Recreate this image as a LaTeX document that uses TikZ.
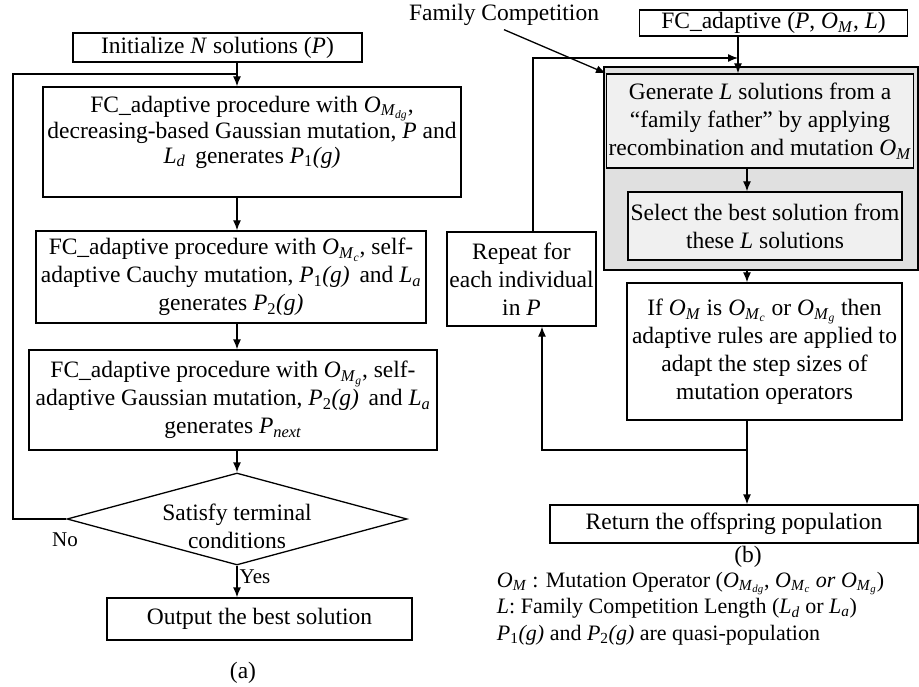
\documentclass[tikz,border=0pt]{standalone}
\usepackage{fontspec}
\setmainfont{Liberation Serif}
\usepackage{tikz}
\usetikzlibrary{shapes.geometric,arrows.meta}
\newcommand{\OmM}{\textit{O}\textsubscript{\textit{M}}}
\newcommand{\Omut}[1]{\textit{O}\textsubscript{\textit{M}\textsubscript{\textit{#1}}}}
\newcommand{\Pgen}[1]{\textit{P}\textsubscript{#1}\textit{(g)}}

\begin{document}
\begin{tikzpicture}[x=1pt,y=-1pt,line width=1.3pt,
  font=\fontsize{23.5}{28}\selectfont,
  box/.style={draw,rectangle,align=center,inner sep=2pt},
  arr/.style={-{Latex[length=10pt,width=8pt]}}]
\useasboundingbox (0,0) rectangle (919,687);
%\draw[step=50,lightgray,very thin] (0,0) grid (919,687);
% (a)
\node[box,minimum width=289pt,minimum height=29pt] (init) at (217.5,47.5) {Initialize \textit{N} solutions (\textit{P})};
\node[box,minimum width=418pt,minimum height=110pt,font=\fontsize{23.5}{25}\selectfont] (fc1) at (252,142)
  {FC\_adaptive procedure with \Omut{dg},\\ decreasing-based Gaussian mutation, \textit{P} and\\ \textit{L}\textsubscript{\textit{d}}\, generates \Pgen{1}\\ \mbox{}};
\node[box,minimum width=390pt,minimum height=92pt] (fc2) at (231,277)
  {FC\_adaptive procedure with \Omut{c}, self-\\ adaptive Cauchy mutation, \Pgen{1}\, and \textit{L}\textsubscript{\textit{a}}\\ generates \Pgen{2}};
\node[box,minimum width=408pt,minimum height=100pt] (fc3) at (233,400)
  {FC\_adaptive procedure with \Omut{g}, self-\\ adaptive Gaussian mutation, \Pgen{2}\, and \textit{L}\textsubscript{\textit{a}}\\ generates \textit{P}\textsubscript{\textit{next}}};
\node[draw,diamond,minimum width=340pt,minimum height=92pt,inner sep=0pt] (cond) at (237,519) {};
\node[align=center] (condtxt) at (237,526) {Satisfy terminal\\ conditions};
\node[box,minimum width=305pt,minimum height=42pt] (out) at (259.5,619) {Output the best solution};
\node[font=\fontsize{21}{24}\selectfont] (no) at (65,540) {No};
\node[font=\fontsize{21}{24}\selectfont] (yes) at (255,577) {Yes};
\node (capa) at (243,673) {(a)};

\coordinate (ax) at (237,74);
\coordinate (lp) at (13,74);
\draw[arr] (init.south -| ax) -- (fc1.north -| ax);
\draw (cond.west) -| (lp) -- (ax);
\draw[arr] (fc1.south -| ax) -- (fc2.north -| ax);
\draw[arr] (fc2.south -| ax) -- (fc3.north -| ax);
\draw[arr] (fc3.south -| ax) -- (cond.north);
\draw[arr] (cond.south) -- (out.north -| cond.south);

% (b)
\node (famc) at (504,15) {Family Competition};
\node[box,minimum width=268pt,minimum height=26pt,inner ysep=0pt] (fcad) at (773.5,23)
  {FC\_adaptive (\textit{P}, \OmM, \textit{L})};
\node[box,fill=black!12,minimum width=314pt,minimum height=203pt] (fam) at (761,168.5) {};
\node[box,fill=black!6,minimum width=296pt,minimum height=94pt] (gen) at (760,121)
  {Generate \textit{L} solutions from a\\ “family father” by applying\\ recombination and mutation \OmM};
\node[box,fill=black!6,minimum width=274pt,minimum height=68pt] (sel) at (765,226)
  {Select the best solution from\\ these \textit{L} solutions};
\node[box,minimum width=275pt,minimum height=137pt] (rule) at (764.5,351.5)
  {If \OmM\ is \Omut{c} or \Omut{g} then\\ adaptive rules are applied to\\ adapt the step sizes of\\ mutation operators};
\node[box,minimum width=149pt,minimum height=94pt] (rep) at (521.5,279)
  {Repeat for\\ each individual\\ in \textit{P}};
\node[box,minimum width=368pt,minimum height=38pt] (ret) at (734,524) {Return the offspring population};
\node (capb) at (748,557) {(b)};
\node[anchor=north west,align=left,font=\fontsize{22}{26.5}\selectfont] (leg) at (493,568)
  {\OmM\ : Mutation Operator (\Omut{dg}, \Omut{c} \textit{or} \Omut{g})\\
   \textit{L}: Family Competition Length (\textit{L}\textsubscript{\textit{d}} or \textit{L}\textsubscript{\textit{a}})\\
   \Pgen{1} and \Pgen{2} are quasi-population};

\coordinate (bx) at (738,58);
\coordinate (ru) at (533,58);
\coordinate (cx) at (747,450);
\coordinate (rd) at (542,450);
\draw[arr] (famc.south) -- (gen.north west);
\draw[arr] (fcad.south -| bx) -- (gen.north -| bx);
\draw[arr] (rep.north -| ru) -- (ru) -- (bx);
\draw[arr] (gen.south -| cx) -- (sel.north -| cx);
\draw[arr] (fam.south -| cx) -- (rule.north -| cx);
\draw[arr] (rule.south -| cx) -- (ret.north -| cx);
\draw[arr] (cx) -- (rd) -- (rep.south -| rd);
\end{tikzpicture}
\end{document}
